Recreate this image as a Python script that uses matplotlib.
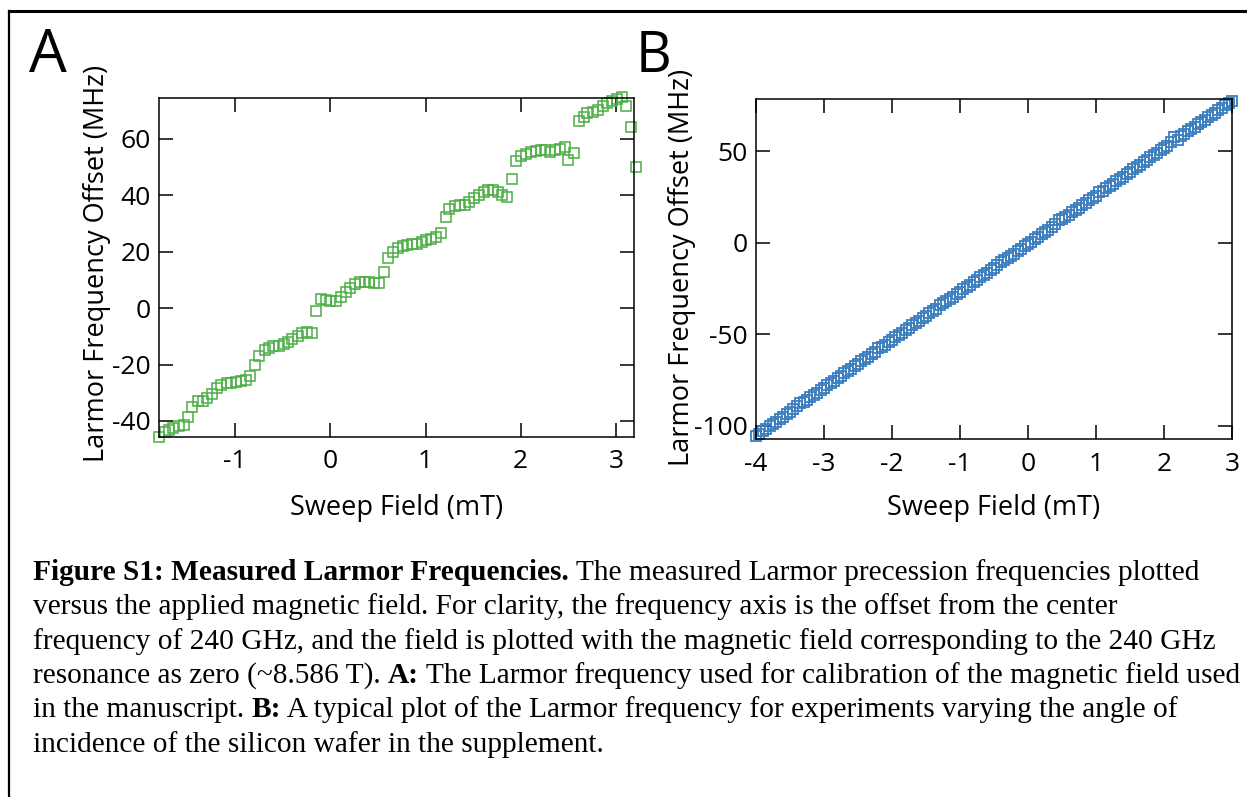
import matplotlib
matplotlib.use("agg")
import matplotlib.pyplot as plt
from matplotlib.lines import Line2D

# Panel A: calibration sweep (field in mT, Larmor offset in MHz)
field_a = [-1.80, -1.74, -1.70, -1.65, -1.59, -1.54, -1.50, -1.45, -1.39, -1.34,
           -1.30, -1.24, -1.19, -1.15, -1.09, -1.04, -0.99, -0.94, -0.89, -0.84,
           -0.79, -0.75, -0.69, -0.64, -0.60, -0.54, -0.49, -0.45, -0.40, -0.34,
           -0.30, -0.25, -0.19, -0.15, -0.10, -0.05, 0.00, 0.06, 0.11, 0.16,
           0.21, 0.26, 0.31, 0.36, 0.41, 0.46, 0.51, 0.56, 0.61, 0.66,
           0.71, 0.76, 0.81, 0.86, 0.91, 0.96, 1.01, 1.06, 1.11, 1.16,
           1.21, 1.25, 1.31, 1.36, 1.41, 1.46, 1.51, 1.56, 1.61, 1.66,
           1.71, 1.76, 1.80, 1.86, 1.91, 1.95, 2.00, 2.06, 2.11, 2.16,
           2.21, 2.26, 2.31, 2.36, 2.41, 2.46, 2.50, 2.56, 2.61, 2.66,
           2.70, 2.76, 2.81, 2.86, 2.91, 2.96, 3.01, 3.06, 3.11, 3.16, 3.21]
freq_a = [-45.7, -44.1, -43.1, -42.4, -41.9, -41.5, -38.6, -35.0, -32.9, -32.9,
          -31.7, -30.3, -28.5, -27.3, -26.7, -26.5, -26.3, -25.9, -25.6, -24.1,
          -20.2, -16.9, -14.9, -14.1, -13.6, -13.3, -12.8, -12.1, -11.0, -9.9,
          -8.8, -8.6, -9.0, -1.2, 3.2, 2.7, 2.5, 2.6, 3.8, 5.8,
          7.3, 8.5, 9.1, 9.2, 9.1, 8.9, 8.8, 12.9, 17.9, 19.8,
          21.4, 22.2, 22.5, 22.7, 22.8, 23.4, 24.1, 24.6, 25.2, 26.7,
          32.4, 35.1, 36.3, 36.6, 36.7, 37.6, 38.9, 40.0, 41.2, 41.9,
          41.8, 41.1, 40.1, 39.3, 45.8, 52.1, 54.0, 54.7, 55.3, 55.7,
          56.1, 56.1, 55.5, 55.9, 56.4, 57.0, 52.5, 54.9, 66.2, 67.9,
          69.1, 69.7, 70.1, 71.8, 72.7, 73.6, 74.2, 74.8, 71.5, 64.1, 50.2]

# Panel B: typical angle-of-incidence run
field_b = [-4.00, -3.95, -3.90, -3.85, -3.80, -3.75, -3.70, -3.65, -3.60, -3.55,
           -3.50, -3.45, -3.40, -3.35, -3.30, -3.25, -3.20, -3.15, -3.10, -3.05,
           -3.00, -2.95, -2.90, -2.85, -2.80, -2.75, -2.70, -2.65, -2.60, -2.55,
           -2.50, -2.45, -2.40, -2.35, -2.30, -2.25, -2.20, -2.15, -2.10, -2.05,
           -2.00, -1.95, -1.90, -1.85, -1.80, -1.75, -1.70, -1.65, -1.60, -1.55,
           -1.50, -1.45, -1.40, -1.35, -1.30, -1.25, -1.20, -1.15, -1.10, -1.05,
           -1.00, -0.95, -0.90, -0.85, -0.80, -0.75, -0.70, -0.65, -0.60, -0.55,
           -0.50, -0.45, -0.40, -0.35, -0.30, -0.25, -0.20, -0.15, -0.10, -0.05,
           0.00, 0.05, 0.10, 0.15, 0.20, 0.25, 0.30, 0.35, 0.40, 0.45,
           0.50, 0.55, 0.60, 0.65, 0.70, 0.75, 0.80, 0.85, 0.90, 0.95,
           1.00, 1.05, 1.10, 1.15, 1.20, 1.25, 1.30, 1.35, 1.40, 1.45,
           1.50, 1.55, 1.60, 1.65, 1.70, 1.75, 1.80, 1.85, 1.90, 1.95,
           2.00, 2.05, 2.10, 2.15, 2.20, 2.25, 2.30, 2.35, 2.40, 2.45,
           2.50, 2.55, 2.60, 2.65, 2.70, 2.75, 2.80, 2.85, 2.90, 2.95, 3.00]
freq_b = [-105.6, -104.2, -102.9, -101.6, -100.2, -98.9, -97.6, -96.3, -95.0, -93.6,
          -92.3, -91.0, -89.1, -87.6, -86.9, -85.7, -84.4, -83.1, -81.8, -80.5,
          -79.2, -77.9, -76.6, -75.3, -74.0, -72.6, -71.3, -70.0, -68.7, -67.4,
          -66.1, -64.8, -63.5, -62.2, -60.9, -59.6, -57.6, -56.8, -55.6, -54.3,
          -53.0, -51.7, -50.4, -49.1, -47.8, -46.4, -45.1, -43.8, -42.5, -41.2,
          -39.9, -38.6, -37.3, -36.0, -34.2, -33.0, -32.0, -30.7, -29.4, -28.1,
          -26.8, -25.5, -24.2, -22.9, -21.6, -20.2, -18.9, -17.6, -16.3, -15.0,
          -13.7, -12.4, -10.6, -9.7, -8.5, -7.2, -5.9, -4.6, -3.3, -2.0,
          -0.7, 0.6, 1.9, 3.2, 4.5, 5.8, 7.1, 8.5, 10.2, 12.3,
          12.9, 14.0, 15.3, 16.6, 17.9, 19.2, 20.5, 21.8, 23.1, 24.4,
          25.7, 27.6, 28.4, 29.6, 30.9, 32.2, 33.5, 34.8, 36.1, 37.4,
          38.7, 40.0, 41.3, 42.6, 43.9, 45.2, 46.5, 47.8, 49.1, 50.4,
          51.4, 52.6, 55.2, 57.4, 55.8, 58.0, 59.4, 60.8, 62.1, 63.3,
          64.6, 65.8, 67.1, 68.4, 69.7, 71.0, 72.3, 73.6, 74.9, 76.2, 77.5]

ticks_a_x = [-1, 0, 1, 2, 3]
ticks_a_y = [-40, -20, 0, 20, 40, 60]
ticks_b_x = [-4, -3, -2, -1, 0, 1, 2, 3]
ticks_b_y = [-100, -50, 0, 50]

# caption lines as (text, bold) pieces
caption = [
    [("Figure S1: Measured Larmor Frequencies.", True),
     (" The measured Larmor precession frequencies plotted", False)],
    [("versus the applied magnetic field. For clarity, the frequency axis is the offset from the center", False)],
    [("frequency of 240 GHz, and the field is plotted with the magnetic field corresponding to the 240 GHz", False)],
    [("resonance as zero (~8.586 T). ", False), ("A:", True),
     (" The Larmor frequency used for calibration of the magnetic field used", False)],
    [("in the manuscript. ", False), ("B:", True),
     (" A typical plot of the Larmor frequency for experiments varying the angle of", False)],
    [("incidence of the silicon wafer in the supplement.", False)],
]

green = "#4cae45"
blue = "#3a7ebf"
sans = "Open Sans"
serif = "Liberation Serif"
tick_fs = 19
label_fs = 19.5

W, H = 1247, 797
fig = plt.figure(figsize=(W / 100, H / 100), dpi=100)


def px_axes(left, top, right, bottom):
    return fig.add_axes([left / W, 1 - bottom / H, (right - left) / W, (bottom - top) / H])


def style(ax, xt, yt, xlim, ylim):
    ax.set_xlim(*xlim)
    ax.set_ylim(*ylim)
    ax.set_xticks(xt)
    ax.set_yticks(yt)
    ax.set_xticklabels([str(v) for v in xt], family=sans, fontsize=tick_fs)
    ax.set_yticklabels([str(v) for v in yt], family=sans, fontsize=tick_fs)
    ax.tick_params(direction="in", length=10, width=1.1, top=True, right=True, pad=6)
    ax.tick_params(axis="x", pad=9)
    for s in ax.spines.values():
        s.set_linewidth(1.1)
    ax.set_xlabel("Sweep Field (mT)", family=sans, fontsize=label_fs)
    ax.set_ylabel("Larmor Frequency Offset (MHz)", family=sans, fontsize=label_fs)


ax_a = px_axes(159, 98, 634, 437)
ax_a.plot(field_a, freq_a, "s", mfc="none", mec=green, ms=6.5, mew=1.1, clip_on=False)
style(ax_a, ticks_a_x, ticks_a_y, (-1.80, 3.19), (-45.7, 74.5))
ax_a.xaxis.set_label_coords(0.5, -0.168)
ax_a.yaxis.set_label_coords(-0.101, 0.513)

ax_b = px_axes(756, 99, 1232, 439)
ax_b.plot(field_b, freq_b, "s", mfc="none", mec=blue, ms=7, mew=1.3, clip_on=False)
style(ax_b, ticks_b_x, ticks_b_y, (-4, 3), (-107.1, 78.4))
ax_b.xaxis.set_label_coords(0.5, -0.163)
ax_b.yaxis.set_label_coords(-0.126, 0.505)

fig.text(29 / W, 1 - 72 / H, "A", family=sans, fontsize=43, va="baseline")
fig.text(636 / W, 1 - 72 / H, "B", family=sans, fontsize=40, va="baseline")

# frame round the figure (only top and left edges are in view)
fig.add_artist(Line2D([9 / W, 1], [1 - 11 / H, 1 - 11 / H], color="black", lw=2.2))
fig.add_artist(Line2D([9 / W, 9 / W], [0, 1 - 11 / H], color="black", lw=1.6))

# caption: pieces chained one after another along each line
cap_ax = fig.add_axes([0, 0, 1, 1])
cap_ax.axis("off")
cap_fs = 21.2
for i, line in enumerate(caption):
    y = 1 - (580 + i * 34.3) / H
    prev = None
    for text, bold in line:
        w = "bold" if bold else "normal"
        if prev is None:
            prev = cap_ax.text(33 / W, y, text, transform=fig.transFigure, family=serif,
                               fontsize=cap_fs, weight=w, va="baseline")
        else:
            prev = cap_ax.annotate(text, xy=(1, 0), xycoords=prev, va="bottom", ha="left",
                                   family=serif, fontsize=cap_fs, weight=w,
                                   annotation_clip=False)

fig.savefig("out.png", dpi=100)
